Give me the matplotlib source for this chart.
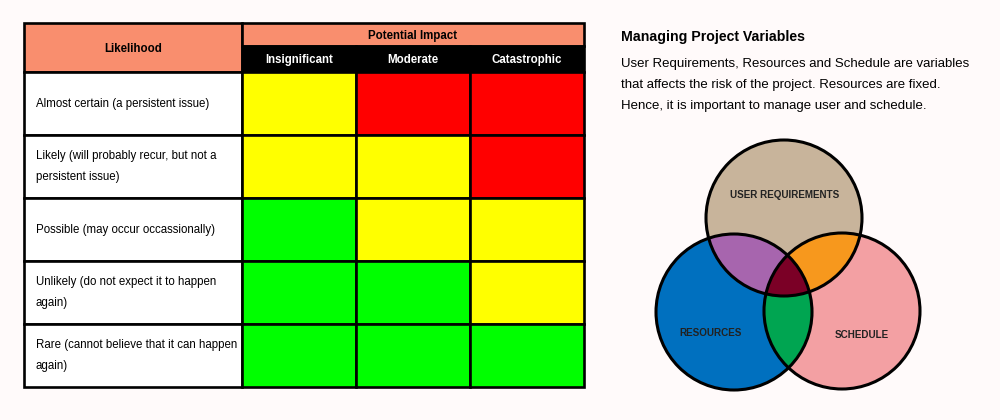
import numpy as np
import matplotlib.pyplot as plt
from matplotlib.patches import Rectangle, Circle
from matplotlib.colors import to_rgba

# data
likelihood = ['Almost certain (a persistent issue)',
              'Likely (will probably recur, but not a\npersistent issue)',
              'Possible (may occur occassionally)',
              'Unlikely (do not expect it to happen\nagain)',
              'Rare (cannot believe that it can happen\nagain)']
impact = ['Insignificant', 'Moderate', 'Catastrophic']
risk = [['Y', 'R', 'R'],
        ['Y', 'Y', 'R'],
        ['G', 'Y', 'Y'],
        ['G', 'G', 'Y'],
        ['G', 'G', 'G']]
sets = ['USER REQUIREMENTS', 'RESOURCES', 'SCHEDULE']
title = 'Managing Project Variables'
body = ['User Requirements, Resources and Schedule are variables',
        'that affects the risk of the project. Resources are fixed.',
        'Hence, it is important to manage user and schedule.']

risk_colors = {'Y': '#FFFF00', 'R': '#FF0000', 'G': '#00FF00'}
header_col = '#F98E6E'
font = ['Liberation Sans', 'DejaVu Sans']

fig = plt.figure(figsize=(10, 4.2), dpi=100, facecolor='#FFFAFA')
ax = fig.add_axes([0, 0, 1, 1])
ax.set_xlim(0, 1000)
ax.set_ylim(420, 0)
ax.axis('off')

# ---- risk matrix
x_cols = [24, 242, 356, 470, 584]
y_top, y_mid, y_hdr = 23, 46, 72
row_h = 63
lw = 1.9

ax.add_patch(Rectangle((x_cols[0], y_top), x_cols[1] - x_cols[0], y_hdr - y_top,
                       fc=header_col, ec='black', lw=lw))
ax.text((x_cols[0] + x_cols[1]) / 2, (y_top + y_hdr) / 2 + 1, 'Likelihood',
        ha='center', va='center', fontsize=8.3, fontweight='bold', family=font)
ax.add_patch(Rectangle((x_cols[1], y_top), x_cols[-1] - x_cols[1], y_mid - y_top,
                       fc=header_col, ec='black', lw=lw))
ax.text((x_cols[1] + x_cols[-1]) / 2, (y_top + y_mid) / 2 + 1, 'Potential Impact',
        ha='center', va='center', fontsize=8.3, fontweight='bold', family=font)
for j, name in enumerate(impact):
    ax.add_patch(Rectangle((x_cols[j + 1], y_mid), x_cols[j + 2] - x_cols[j + 1], y_hdr - y_mid,
                           fc='black', ec='black', lw=lw))
    ax.text((x_cols[j + 1] + x_cols[j + 2]) / 2, (y_mid + y_hdr) / 2 + 1, name, color='white',
            ha='center', va='center', fontsize=8.3, fontweight='bold', family=font)

for i, label in enumerate(likelihood):
    y0 = y_hdr + i * row_h
    ax.add_patch(Rectangle((x_cols[0], y0), x_cols[1] - x_cols[0], row_h,
                           fc='white', ec='black', lw=lw))
    ax.text(x_cols[0] + 12, y0 + row_h / 2, label, ha='left', va='center',
            fontsize=8.3, family=font, linespacing=2.0)
    for j, r in enumerate(risk[i]):
        ax.add_patch(Rectangle((x_cols[j + 1], y0), x_cols[j + 2] - x_cols[j + 1], row_h,
                               fc=risk_colors[r], ec='black', lw=lw))

# ---- text block
ax.text(621, 37, title, ha='left', va='center', fontsize=10.2, fontweight='bold', family=font)
for k, line in enumerate(body):
    ax.text(621, 64 + k * 21, line, ha='left', va='center', fontsize=9.5, family=font)

# ---- venn diagram
centers = [(784, 218), (734, 312), (842, 311)]
rad = 78
fills = {(1, 0, 0): '#C8B49C', (0, 1, 0): '#0070C0', (0, 0, 1): '#F4A0A4',
         (1, 1, 0): '#A865AF', (1, 0, 1): '#F7981D', (0, 1, 1): '#00A651',
         (1, 1, 1): '#7B0027'}
x0, x1, yb0, yb1 = 640, 935, 130, 400
gx, gy = np.meshgrid(np.linspace(x0, x1, 1180), np.linspace(yb0, yb1, 1080))
inside = [((gx - cx) ** 2 + (gy - cy) ** 2) <= rad ** 2 for cx, cy in centers]
img = np.zeros(gx.shape + (4,))
for key, col in fills.items():
    m = np.ones(gx.shape, bool)
    for s, k in zip(inside, key):
        m &= s if k else ~s
    img[m] = to_rgba(col)
ax.imshow(img, extent=(x0, x1, yb1, yb0), interpolation='bilinear', zorder=2, aspect='auto')
for cx, cy in centers:
    ax.add_patch(Circle((cx, cy), rad, fc='none', ec='black', lw=2.2, zorder=3))

label_pos = [(785, 195), (711, 333), (862, 335)]
for name, (lx, ly) in zip(sets, label_pos):
    ax.text(lx, ly, name, ha='center', va='center', fontsize=7.1, fontweight='bold',
            color='#222222', family=font, zorder=4)

fig.savefig('out.png', dpi=100, facecolor=fig.get_facecolor())
